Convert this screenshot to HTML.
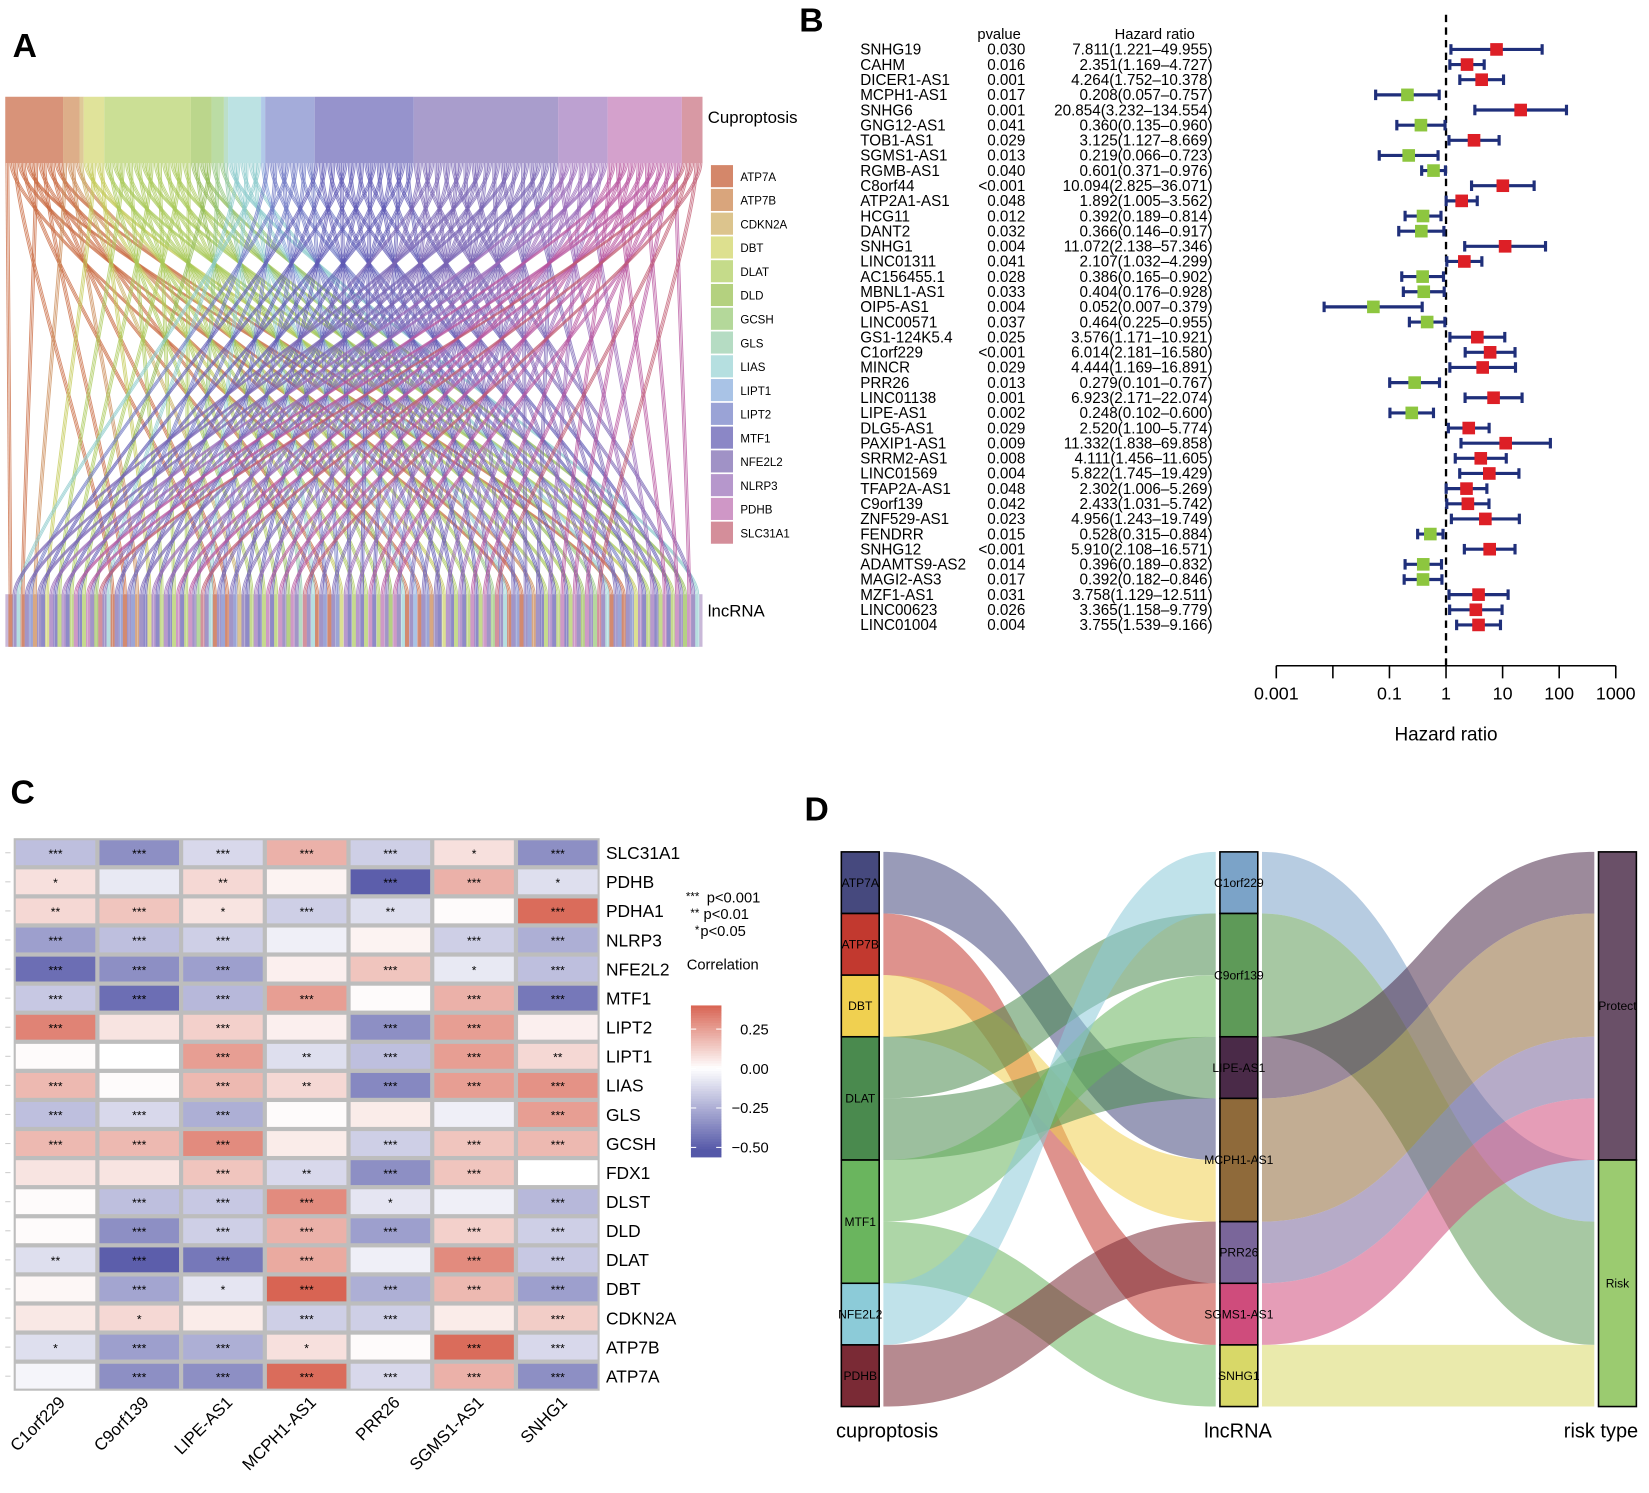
<!DOCTYPE html>
<html><head><meta charset="utf-8"><style>
html,body{margin:0;padding:0;background:#fff}
svg{display:block;font-family:"Liberation Sans",Arial,sans-serif}
</style></head><body>
<svg id="fig" width="1649" height="1493" viewBox="0 0 1568 1419.6" preserveAspectRatio="none" xmlns="http://www.w3.org/2000/svg">
<g id="pA"></g>
<g id="pB"></g>
<g id="pC"></g>
<g id="pD"></g>
<text x="12" y="54" font-size="32" font-weight="bold">A</text>
<text x="760" y="30" font-size="32" font-weight="bold">B</text>
<text x="10" y="764" font-size="32" font-weight="bold">C</text>
<text x="765" y="780" font-size="32" font-weight="bold">D</text>
</svg>
<script>
// ---------- Panel A data ----------
const aGenes=["ATP7A","ATP7B","CDKN2A","DBT","DLAT","DLD","GCSH","GLS","LIAS","LIPT1","LIPT2","MTF1","NFE2L2","NLRP3","PDHB","SLC31A1"];
const aCounts=[14,4,1,5,21,5,3,1,8,1,12,24,35,12,18,5];
const aColors=["#d4876a","#d9a57c","#dcc48d","#dde08f","#c5db8a","#b4d17f","#b4d89a","#b5dcc3","#b5dfe0","#a9c3e6","#9aa3d6","#8b87c6","#a092c6","#b697cc","#cf97c6","#d48e9a"];
const aLine=["#c8683f","#c98a55","#c8ad60","#c3c955","#a9c95a","#92bb55","#90c47a","#8cc5a4","#8ccbcc","#7f9fd8","#6f78c4","#5f5ab4","#7a66b4","#9a6ab8","#b8559f","#c05a70"];
// ---------- Panel B data ----------
const bNames=["SNHG19","CAHM","DICER1-AS1","MCPH1-AS1","SNHG6","GNG12-AS1","TOB1-AS1","SGMS1-AS1","RGMB-AS1","C8orf44","ATP2A1-AS1","HCG11","DANT2","SNHG1","LINC01311","AC156455.1","MBNL1-AS1","OIP5-AS1","LINC00571","GS1-124K5.4","C1orf229","MINCR","PRR26","LINC01138","LIPE-AS1","DLG5-AS1","PAXIP1-AS1","SRRM2-AS1","LINC01569","TFAP2A-AS1","C9orf139","ZNF529-AS1","FENDRR","SNHG12","ADAMTS9-AS2","MAGI2-AS3","MZF1-AS1","LINC00623","LINC01004"];
const bP=["0.030","0.016","0.001","0.017","0.001","0.041","0.029","0.013","0.040","<0.001","0.048","0.012","0.032","0.004","0.041","0.028","0.033","0.004","0.037","0.025","<0.001","0.029","0.013","0.001","0.002","0.029","0.009","0.008","0.004","0.048","0.042","0.023","0.015","<0.001","0.014","0.017","0.031","0.026","0.004"];
const bHR=[7.811,2.351,4.264,0.208,20.854,0.360,3.125,0.219,0.601,10.094,1.892,0.392,0.366,11.072,2.107,0.386,0.404,0.052,0.464,3.576,6.014,4.444,0.279,6.923,0.248,2.520,11.332,4.111,5.822,2.302,2.433,4.956,0.528,5.910,0.396,0.392,3.758,3.365,3.755];
const bLo=[1.221,1.169,1.752,0.057,3.232,0.135,1.127,0.066,0.371,2.825,1.005,0.189,0.146,2.138,1.032,0.165,0.176,0.007,0.225,1.171,2.181,1.169,0.101,2.171,0.102,1.100,1.838,1.456,1.745,1.006,1.031,1.243,0.315,2.108,0.189,0.182,1.129,1.158,1.539];
const bHi=[49.955,4.727,10.378,0.757,134.554,0.960,8.669,0.723,0.976,36.071,3.562,0.814,0.917,57.346,4.299,0.902,0.928,0.379,0.955,10.921,16.580,16.891,0.767,22.074,0.600,5.774,69.858,11.605,19.429,5.269,5.742,19.749,0.884,16.571,0.832,0.846,12.511,9.779,9.166];
const bTicks=[0.001,0.01,0.1,1,10,100,1000];
const bTickLabels=["0.001","","0.1","1","10","100","1000"];
// ---------- Panel C data ----------
const cCols=["C1orf229","C9orf139","LIPE-AS1","MCPH1-AS1","PRR26","SGMS1-AS1","SNHG1"];
const cRows=["SLC31A1","PDHB","PDHA1","NLRP3","NFE2L2","MTF1","LIPT2","LIPT1","LIAS","GLS","GCSH","FDX1","DLST","DLD","DLAT","DBT","CDKN2A","ATP7B","ATP7A"];
const cVals=[
[-0.2,-0.35,-0.12,0.2,-0.15,0.08,-0.35],
[0.08,-0.07,0.1,0.03,-0.5,0.2,-0.1],
[0.1,0.15,0.07,-0.15,-0.1,0.01,0.38],
[-0.3,-0.2,-0.15,-0.05,0.03,-0.15,-0.25],
[-0.45,-0.35,-0.3,0.04,0.15,-0.07,-0.2],
[-0.17,-0.45,-0.22,0.25,0.01,0.2,-0.42],
[0.32,0.07,0.12,0.04,-0.35,0.25,0.04],
[0.01,0,0.25,-0.1,-0.2,0.25,0.1],
[0.18,0.01,0.18,0.1,-0.37,0.25,0.28],
[-0.2,-0.12,-0.25,0.01,0.05,-0.05,0.25],
[0.18,0.18,0.3,0.05,-0.15,0.15,0.18],
[0.07,0.07,0.15,-0.12,-0.35,0.15,0],
[0.01,-0.2,-0.17,0.3,-0.08,-0.05,-0.22],
[0.01,-0.35,-0.15,0.2,-0.3,0.12,-0.15],
[-0.1,-0.5,-0.42,0.22,-0.05,0.3,-0.17],
[0.02,-0.28,-0.08,0.4,-0.25,0.18,-0.3],
[0.06,0.1,0.05,-0.15,-0.15,0.05,0.13],
[-0.1,-0.3,-0.25,0.08,0.01,0.38,-0.12],
[-0.03,-0.35,-0.35,0.38,-0.12,0.2,-0.35]];
const cStars=[
["***","***","***","***","***","*","***"],
["*","","**","","***","***","*"],
["**","***","*","***","**","","***"],
["***","***","***","","","***","***"],
["***","***","***","","***","*","***"],
["***","***","***","***","","***","***"],
["***","","***","","***","***",""],
["","","***","**","***","***","**"],
["***","","***","**","***","***","***"],
["***","***","***","","","","***"],
["***","***","***","","***","***","***"],
["","","***","**","***","***",""],
["","***","***","***","*","","***"],
["","***","***","***","***","***","***"],
["**","***","***","***","","***","***"],
["","***","*","***","***","***","***"],
["","*","","***","***","","***"],
["*","***","***","*","","***","***"],
["","***","***","***","***","***","***"]];
const cTicks=[0.25,0,-0.25,-0.5];
const cTickLabels=["0.25","0.00","\u22120.25","\u22120.50"];
// ---------- Panel D data ----------
const dLeft=["ATP7A","ATP7B","DBT","DLAT","MTF1","NFE2L2","PDHB"];
const dMid=["C1orf229","C9orf139","LIPE-AS1","MCPH1-AS1","PRR26","SGMS1-AS1","SNHG1"];
const dRight=["Protect","Risk"];
const dFlow1=[["ATP7A","MCPH1-AS1",1],["ATP7B","SGMS1-AS1",1],["DBT","MCPH1-AS1",1],["DLAT","C9orf139",1],["DLAT","LIPE-AS1",1],["MTF1","C9orf139",1],["MTF1","SNHG1",1],["NFE2L2","C1orf229",1],["PDHB","PRR26",1]];
const dFlow2=[["C1orf229","Risk",1],["C9orf139","Risk",2],["LIPE-AS1","Protect",1],["MCPH1-AS1","Protect",2],["PRR26","Protect",1],["SGMS1-AS1","Protect",1],["SNHG1","Risk",1]];
const dColors={"ATP7A":"#46497e","ATP7B":"#c2392f","DBT":"#f0d050","DLAT":"#4a8a4e","MTF1":"#6ab55e","NFE2L2":"#8ccbd8","PDHB":"#7a2a35","C1orf229":"#7ba3c8","C9orf139":"#5e9a58","LIPE-AS1":"#4a2a48","MCPH1-AS1":"#8f6a3a","PRR26":"#7a669a","SGMS1-AS1":"#cf4c7c","SNHG1":"#d8d868","Protect":"#6a5068","Risk":"#9bcb70"};

const NS="http://www.w3.org/2000/svg";
function mk(parent,tag,attrs,text){const e=document.createElementNS(NS,tag);for(const k in attrs)e.setAttribute(k,attrs[k]);if(text!==undefined)e.textContent=text;parent.appendChild(e);return e;}

// ===== Panel A =====
(function(){
const g=document.getElementById('pA');
const x0=5,x1=668,yTop=92,yStrB=155,yBotT=565,yBot=615;
const total=aCounts.reduce((a,b)=>a+b,0);
const sc=(x1-x0)/total;
let cx=x0;const spans=[];
aGenes.forEach((n,i)=>{const w=aCounts[i]*sc;spans.push([cx,w]);
 const r=mk(g,'rect',{x:cx,y:yTop,width:w,height:yStrB-yTop,fill:aColors[i],opacity:0.9});
 
 
 cx+=w;});
let gi=0;const links=[];
aGenes.forEach((n,i)=>{const [sx,w]=spans[i];for(let k=0;k<aCounts[i];k++){links.push({i,sx:sx+w*(k+0.5)/aCounts[i],gi});gi++;}});
const L=links.length;
links.forEach(l=>{const t=(l.gi*97)%L;l.tx=x0+3+(x1-x0-6)*(t+0.5)/L;});
const lg=mk(g,'g',{fill:'none'});
links.forEach(l=>{
 for(let s=-1;s<=1;s++){
  const sx=l.sx+s*sc*0.35,tx=l.tx+s*1.3;
  mk(lg,'path',{d:`M${sx},${yStrB} C${sx},${yStrB+70} ${tx},${yBotT-70} ${tx},${yBotT}`,stroke:aLine[l.i],'stroke-width':0.9,'stroke-opacity':0.75});
 }
});
const bb=mk(g,'g',{});
mk(bb,'rect',{x:x0,y:yBotT,width:x1-x0,height:yBot-yBotT,fill:'#c9b8d8'});
links.slice().sort((a,b)=>a.tx-b.tx).forEach(l=>{mk(bb,'rect',{x:l.tx-(x1-x0)/L/2,y:yBotT,width:(x1-x0)/L,height:yBot-yBotT,fill:aColors[l.i],opacity:0.95});});
for(let k=0;k<L;k+=2){mk(bb,'line',{x1:x0+(x1-x0)*k/L,y1:yBotT,x2:x0+(x1-x0)*k/L,y2:yBot,stroke:'#fff','stroke-width':0.4,'stroke-opacity':0.6});}
const t1=mk(g,'text',{x:673,y:117,'font-size':16},'Cuproptosis');
const t2=mk(g,'text',{x:673,y:586,'font-size':16},'lncRNA');
aGenes.forEach((n,i)=>{const y=157+i*22.6;
 const e=mk(g,'g',{});
 mk(e,'rect',{x:676,y:y,width:21,height:21,fill:aColors[i]});
 mk(e,'text',{x:704,y:y+15,'font-size':11},n);});
})();

// ===== Panel B =====
(function(){
const g=document.getElementById('pB');
const xs=v=>1375+Math.log10(v)*53.8;
const y0=47,dy=14.4;
const h1=mk(g,'text',{x:950,y:37,'font-size':14,'text-anchor':'middle'},'pvalue');
const h2=mk(g,'text',{x:1098,y:37,'font-size':14,'text-anchor':'middle'},'Hazard ratio');
const ref=mk(g,'line',{x1:xs(1),y1:14,x2:xs(1),y2:633,stroke:'#000','stroke-width':2.2,'stroke-dasharray':'7,5'});
bNames.forEach((n,i)=>{const y=y0+i*dy;
 const r=mk(g,'g',{});
 mk(r,'text',{x:818,y:y+5,'font-size':14.5},n);
 mk(r,'text',{x:975,y:y+5,'font-size':14.5,'text-anchor':'end'},bP[i]);
 mk(r,'text',{x:1153,y:y+5,'font-size':14.5,'text-anchor':'end'},bHR[i].toFixed(3)+'('+bLo[i].toFixed(3)+'\u2013'+bHi[i].toFixed(3)+')');
 const a=xs(bLo[i]),b=xs(bHi[i]);
 mk(r,'line',{x1:a,y1:y,x2:b,y2:y,stroke:'#1f2f7a','stroke-width':3});
 mk(r,'line',{x1:a,y1:y-5,x2:a,y2:y+5,stroke:'#1f2f7a','stroke-width':3});
 mk(r,'line',{x1:b,y1:y-5,x2:b,y2:y+5,stroke:'#1f2f7a','stroke-width':3});
 const c=xs(bHR[i]);
 mk(r,'rect',{x:c-6,y:y-6,width:12,height:12,fill:bHR[i]>1?'#dd1f26':'#8dc63f'});
});
const ax=mk(g,'g',{});
mk(ax,'line',{x1:xs(0.001),y1:633,x2:xs(1000),y2:633,stroke:'#000','stroke-width':1.5});
bTicks.forEach((t,i)=>{mk(ax,'line',{x1:xs(t),y1:633,x2:xs(t),y2:645,stroke:'#000','stroke-width':1.5});
 if(bTickLabels[i])mk(ax,'text',{x:xs(t),y:665,'font-size':17,'text-anchor':'middle'},bTickLabels[i]);});
const xt=mk(g,'text',{x:xs(1),y:704,'font-size':18,'text-anchor':'middle'},'Hazard ratio');
})();

// ===== Panel C =====
(function(){
const g=document.getElementById('pC');
const gx=13,gy=797,cw=79.6,ch=27.65,nr=cRows.length,nc=cCols.length;
function col(v){const blue=[85,88,168],red=[214,92,74];const c=v<0?blue:red;const t=Math.min(1,Math.abs(v)/(v<0?0.52:0.42));
 return 'rgb('+[0,1,2].map(k=>Math.round(255+(c[k]-255)*t)).join(',')+')';}
const bg=mk(g,'rect',{x:gx,y:gy,width:cw*nc,height:ch*nr,fill:'#bdbdbd'});
cRows.forEach((rn,r)=>{cCols.forEach((cn,c)=>{
 const x=gx+c*cw,y=gy+r*ch;
 const cell=mk(g,'rect',{x:x+2,y:y+2,width:cw-4,height:ch-4,fill:col(cVals[r][c])});
 
 
 if(cStars[r][c])mk(g,'text',{x:x+cw/2,y:y+ch/2+5,'font-size':11.5,'text-anchor':'middle'},cStars[r][c]);
});
 const t=mk(g,'text',{x:gx+cw*nc+6,y:gy+r*ch+ch/2+6,'font-size':16.5},rn);
 mk(g,'line',{x1:gx-8,y1:gy+r*ch+ch/2,x2:gx-3,y2:gy+r*ch+ch/2,stroke:'#ccc'});
});
cCols.forEach((cn,c)=>{const x=gx+c*cw+cw/2+10,y=gy+nr*ch+12;
 const t=mk(g,'text',{x:x,y:y,'font-size':16,'text-anchor':'end',transform:`rotate(-45 ${x} ${y})`},cn);});
const lg=mk(g,'g',{});
[["***","p<0.001"],["**","p<0.01"],["*","p<0.05"]].forEach((s,i)=>{mk(lg,'text',{x:665,y:856+i*16,'font-size':11,'text-anchor':'end'},s[0]);mk(lg,'text',{x:672+i*-3,y:858+i*16,'font-size':14},s[1]);});
mk(g,'text',{x:653,y:922,'font-size':14},'Correlation');
const cb=mk(g,'g',{});
const ys=v=>1016-v*150;
const top=0.4,bot=-0.56;
for(let k=0;k<60;k++){const v1=top-(top-bot)*k/60,v2=top-(top-bot)*(k+1)/60;mk(cb,'rect',{x:657,y:ys(v1),width:29,height:ys(v2)-ys(v1)+0.5,fill:col((v1+v2)/2)});}
cTicks.forEach((t,i)=>{mk(cb,'line',{x1:657,y1:ys(t),x2:662,y2:ys(t),stroke:'#fff'});mk(cb,'line',{x1:681,y1:ys(t),x2:686,y2:ys(t),stroke:'#fff'});
 mk(cb,'text',{x:731,y:ys(t)+5,'font-size':14,'text-anchor':'end'},cTickLabels[i]);});
})();

// ===== Panel D =====
(function(){
const g=document.getElementById('pD');
const yT=810,unit=58.6,nw=36;
const colX=[800,1160,1520];
function layout(names,getVal){const pos={};let y=yT;names.forEach(n=>{const v=getVal(n);pos[n]={y:y,h:v*unit,inOff:0,outOff:0};y+=v*unit;});return pos;}
const sum=(arr,f)=>arr.reduce((a,x)=>a+(f(x)?x[2]:0),0);
const L=layout(dLeft,n=>sum(dFlow1,f=>f[0]===n));
const M=layout(dMid,n=>sum(dFlow1,f=>f[1]===n));
const R=layout(dRight,n=>sum(dFlow2,f=>f[1]===n));
function band(fl,S,T,xa,xb,colorKey){
 fl.forEach(f=>{const s=S[f[0]],t=T[f[1]],h=f[2]*unit;
  const sy=s.y+s.outOff,ty=t.y+t.inOff;s.outOff+=h;t.inOff+=h;
  const a=xa+nw+4,b=xb-4,m=(a+b)/2;
  const p=mk(g,'path',{d:`M${a},${sy} C${m},${sy} ${m},${ty} ${b},${ty} L${b},${ty+h} C${m},${ty+h} ${m},${sy+h} ${a},${sy+h} Z`,fill:dColors[f[colorKey]],'fill-opacity':0.55});
  
  
 });}
band(dFlow1,L,M,colX[0],colX[1],0);
band(dFlow2,M,R,colX[1],colX[2],0);
function nodes(pos,x){for(const n in pos){const p=pos[n];
 const ng=mk(g,'g',{});
 mk(ng,'rect',{x:x,y:p.y,width:nw,height:p.h,fill:dColors[n],stroke:'#000','stroke-width':1.5});
 mk(ng,'text',{x:x+nw/2,y:p.y+p.h/2+4,'font-size':11.5,'text-anchor':'middle'},n);}}
nodes(L,colX[0]);nodes(M,colX[1]);nodes(R,colX[2]);
[["cuproptosis",795],["lncRNA",1145],["risk type",1487]].forEach(a=>{const t=mk(g,'text',{x:a[1],y:1367,'font-size':19},a[0]);});
})();
</script>
</body></html>
